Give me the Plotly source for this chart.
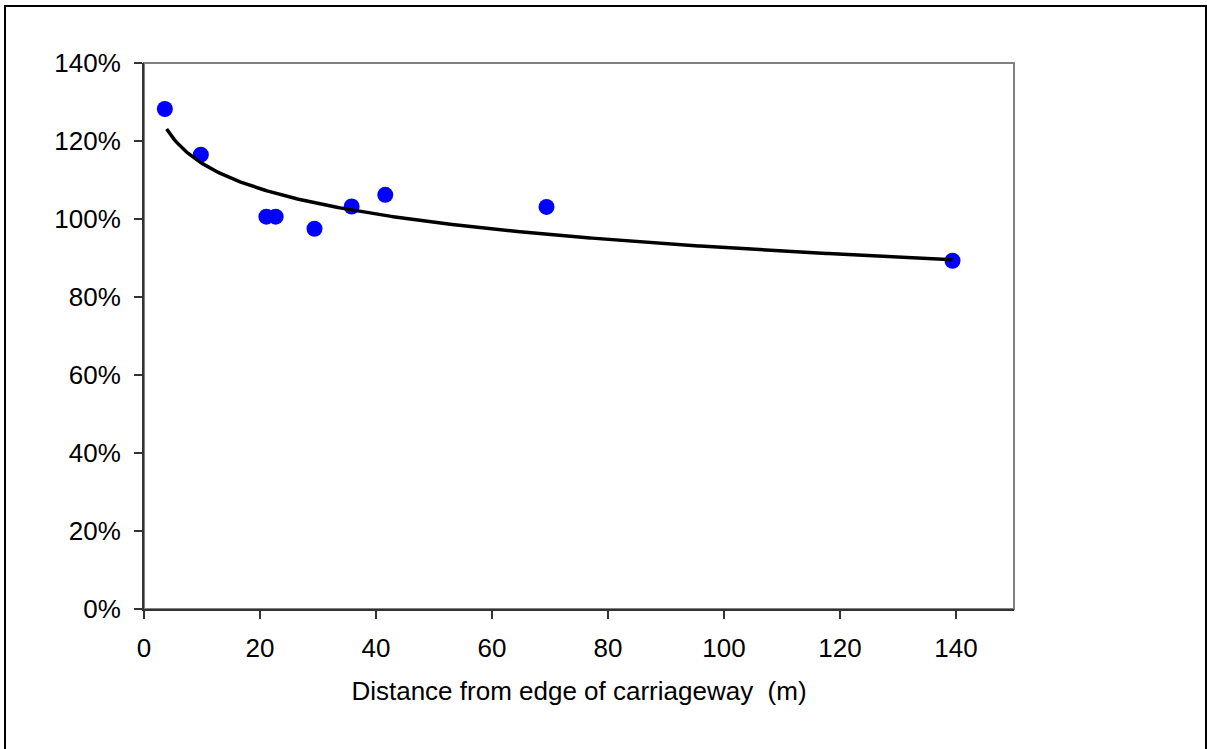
import numpy as np
import plotly.graph_objects as go

# Measured points: distance from carriageway edge (m) vs. relative value (%)
distance_m = [3.6, 9.8, 21.1, 22.7, 29.4, 35.8, 41.6, 69.4, 139.4]
relative_pct = [128.2, 116.5, 100.6, 100.6, 97.5, 103.2, 106.2, 103.1, 89.3]

x_ticks = [0, 20, 40, 60, 80, 100, 120, 140]
y_ticks = [0, 20, 40, 60, 80, 100, 120, 140]

# Logarithmic trend line fitted to the measurements (y = a + b*ln x)
xd = np.array(distance_m)
yd = np.array(relative_pct)
b, a = np.polyfit(np.log(xd), yd, 1)
trend_x = np.linspace(xd.min() + 0.3, xd.max(), 400)
trend_y = a + b * np.log(trend_x)

W, H = 1207, 749
L, R, T, B = 144, 1014, 63, 609

FONT = "Liberation Sans, Arial, sans-serif"

fig = go.Figure()
fig.add_trace(go.Scatter(
    x=xd, y=yd, mode="markers",
    marker=dict(color="#0000FF", size=16, line=dict(width=0)),
    showlegend=False, hoverinfo="skip",
))
fig.add_trace(go.Scatter(
    x=trend_x, y=trend_y, mode="lines",
    line=dict(color="black", width=3.5),
    showlegend=False, hoverinfo="skip",
))


def px_x(p):
    return (p - L) / (R - L)


def px_y(p):
    return (B - p) / (B - T)


fig.update_layout(
    width=W, height=H,
    margin=dict(l=L, r=W - R, t=T, b=H - B, pad=0),
    paper_bgcolor="white", plot_bgcolor="white",
    font=dict(family=FONT, size=26, color="black"),
    shapes=[
        # plot-area border (grey)
        dict(type="rect", xref="paper", yref="paper", x0=0, x1=1, y0=0, y1=1,
             line=dict(color="#808080", width=2), layer="below"),
        # outer chart frame
        dict(type="rect", xref="paper", yref="paper",
             x0=px_x(5), x1=px_x(1206), y0=px_y(760), y1=px_y(6),
             line=dict(color="black", width=2), layer="below"),
    ],
    xaxis=dict(
        range=[0, 150], tickvals=x_ticks, ticktext=[str(v) for v in x_ticks],
        showgrid=False, zeroline=False,
        showline=True, linecolor="#333333", linewidth=2,
        ticks="outside", ticklen=8, tickwidth=1.5, tickcolor="#333333",
        ticklabelstandoff=7,
        title=dict(text="Distance from edge of carriageway\u00a0 (m)",
                   font=dict(size=26), standoff=20),
    ),
    yaxis=dict(
        range=[0, 140], tickvals=y_ticks, ticktext=[f"{v}%" for v in y_ticks],
        showgrid=False, zeroline=False,
        showline=True, linecolor="#333333", linewidth=2,
        ticks="outside", ticklen=8, tickwidth=1.5, tickcolor="#333333",
        ticklabelstandoff=8,
    ),
)

fig.write_html("out.html")
